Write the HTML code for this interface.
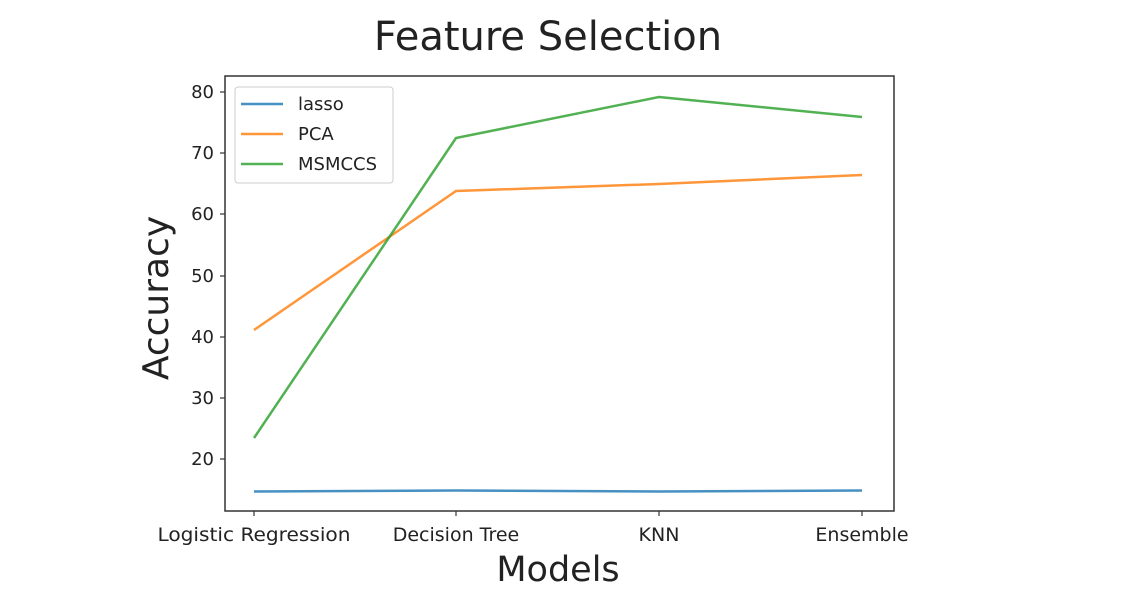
<!DOCTYPE html>
<html><head><style>body{margin:0;background:#fff}svg{display:block}text{font-family:"DejaVu Sans","Liberation Sans",sans-serif;fill:#222}</style></head>
<body>
<svg width="1134" height="610" viewBox="0 0 1134 610">
<text x="548" y="50" font-size="40" text-anchor="middle">Feature Selection</text>
<rect x="225" y="76" width="669" height="435" fill="none" stroke="#333" stroke-width="1.5"/>
<g stroke="#333" stroke-width="1.2">
<line x1="220" y1="92" x2="225" y2="92"/><line x1="220" y1="153" x2="225" y2="153"/><line x1="220" y1="214" x2="225" y2="214"/><line x1="220" y1="276" x2="225" y2="276"/><line x1="220" y1="337" x2="225" y2="337"/><line x1="220" y1="398" x2="225" y2="398"/><line x1="220" y1="459" x2="225" y2="459"/>
<line x1="254" y1="511" x2="254" y2="516"/><line x1="456" y1="511" x2="456" y2="516"/><line x1="659" y1="511" x2="659" y2="516"/><line x1="862" y1="511" x2="862" y2="516"/>
</g>
<g font-size="18" text-anchor="end">
<text x="214" y="98">80</text><text x="214" y="159">70</text><text x="214" y="220">60</text><text x="214" y="282">50</text><text x="214" y="343">40</text><text x="214" y="404">30</text><text x="214" y="465">20</text>
</g>
<g font-size="19" text-anchor="middle" textLength="">
<text x="254" y="541" textLength="193" lengthAdjust="spacingAndGlyphs">Logistic Regression</text><text x="456" y="541">Decision Tree</text><text x="659" y="541">KNN</text><text x="862" y="541">Ensemble</text>
</g>
<text x="558" y="581" font-size="35" text-anchor="middle">Models</text>
<text transform="translate(168,298) rotate(-90)" font-size="36" text-anchor="middle">Accuracy</text>
<g fill="none" stroke-width="2.5" stroke-opacity="0.82">
<polyline stroke="#1f77b4" points="254,491.5 456,490.5 659,491.5 862,490.5"/>
<polyline stroke="#ff7f0e" points="254,330 456,191 659,184 862,175"/>
<polyline stroke="#2ca02c" points="254,438 456,138 659,97 862,117"/>
</g>
<rect x="235" y="87" width="158" height="96" rx="3" fill="#fff" fill-opacity="0.8" stroke="#ccc"/>
<g stroke-width="2.5" stroke-opacity="0.82"><line x1="241" y1="104" x2="283" y2="104" stroke="#1f77b4"/><line x1="241" y1="134" x2="283" y2="134" stroke="#ff7f0e"/><line x1="241" y1="164" x2="283" y2="164" stroke="#2ca02c"/></g>
<g font-size="18"><text x="298" y="110">lasso</text><text x="298" y="140">PCA</text><text x="298" y="170">MSMCCS</text></g>
</svg>
</body></html>
